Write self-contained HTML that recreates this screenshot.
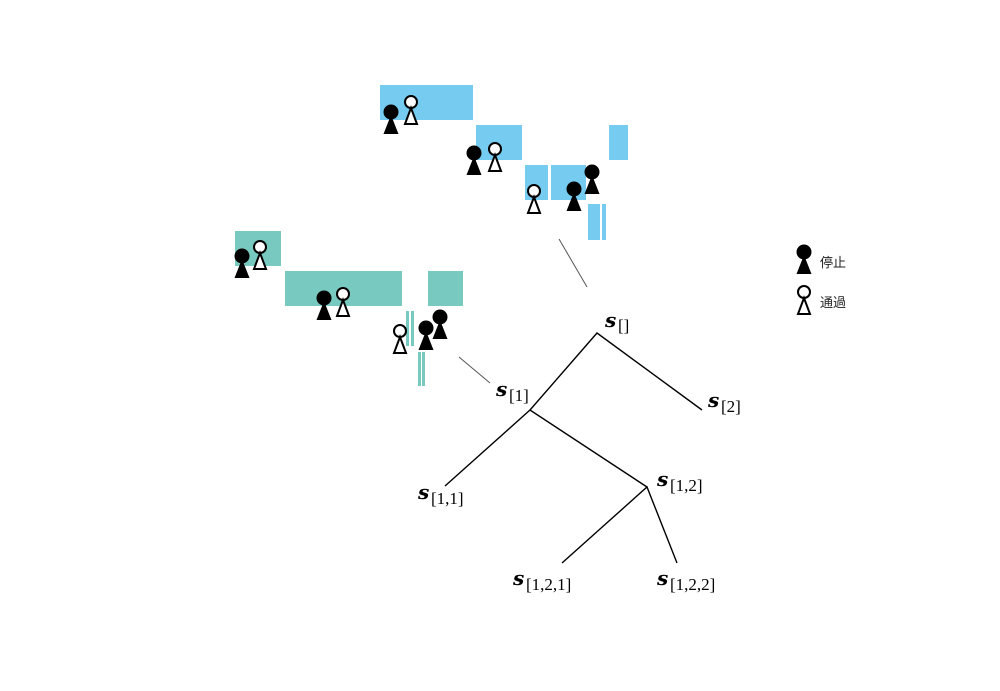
<!DOCTYPE html>
<html><head><meta charset="utf-8"><style>
html,body{margin:0;padding:0;background:#fff;width:1000px;height:691px;overflow:hidden}
</style></head><body>
<svg width="1000" height="691" viewBox="0 0 1000 691" xmlns="http://www.w3.org/2000/svg">
<defs>
<g id="fp"><circle cx="0" cy="0" r="7.5" fill="#000"/><path d="M0,3 L7.5,22 L-7.5,22 Z" fill="#000"/></g>
<g id="op"><circle cx="0" cy="0" r="6" fill="#fff" stroke="#000" stroke-width="2"/><path d="M0,6 L6,22 L-6,22 Z" fill="#fff" stroke="#000" stroke-width="2"/></g>
</defs>
<g fill="#75cbf0">
<rect x="380" y="85" width="93" height="35"/>
<rect x="476" y="125" width="46" height="35"/>
<rect x="609" y="125" width="19" height="35"/>
<rect x="525" y="165" width="23" height="35"/>
<rect x="551" y="165" width="35" height="35"/>
<rect x="588" y="204" width="12" height="36"/>
<rect x="602" y="204" width="4" height="36"/>
</g>
<g fill="#78c9c0">
<rect x="235" y="231" width="46" height="35"/>
<rect x="285" y="271" width="117" height="35"/>
<rect x="428" y="271" width="35" height="35"/>
<rect x="406" y="311" width="3" height="35"/>
<rect x="411" y="311" width="3" height="35"/>
<rect x="418" y="352" width="3" height="34"/>
<rect x="422" y="352" width="3" height="34"/>
</g>
<use href="#fp" x="391" y="112"/><use href="#op" x="411" y="102"/>
<use href="#fp" x="474" y="153"/><use href="#op" x="495" y="149"/>
<use href="#op" x="534" y="191"/><use href="#fp" x="574" y="189"/><use href="#fp" x="592" y="172"/>
<use href="#fp" x="242" y="256"/><use href="#op" x="260" y="247"/>
<use href="#fp" x="324" y="298"/><use href="#op" x="343" y="294"/>
<use href="#op" x="400" y="331"/><use href="#fp" x="426" y="328"/><use href="#fp" x="440" y="317"/>
<use href="#fp" x="804" y="252"/><use href="#op" x="804" y="292"/>
<g font-family="'Liberation Sans','Noto Sans CJK JP',sans-serif" font-size="13" fill="#222">
<text x="820" y="267">停止</text><text x="820" y="307">通過</text>
</g>
<g stroke="#555" stroke-width="1" fill="none">
<line x1="559" y1="239" x2="587" y2="287"/>
<line x1="459" y1="357" x2="490" y2="383"/>
</g>
<g stroke="#000" stroke-width="1.4" fill="none">
<polyline points="530,410 597,333 702,410"/>
<polyline points="445,486 530,410 647,487"/>
<polyline points="562,563 647,487 677,563"/>
</g>
<g font-family="'Liberation Serif',serif" fill="#000">
<g font-family="'DejaVu Serif',serif" font-size="20" font-weight="bold" font-style="italic">
<text x="605" y="327">s</text><text x="496" y="396">s</text><text x="708" y="407">s</text>
<text x="418" y="499">s</text><text x="657" y="486">s</text><text x="513" y="585">s</text><text x="657" y="585">s</text>
</g>
<g font-size="17">
<text x="618" y="331">[]</text>
<text x="509" y="401">[1]</text>
<text x="721" y="412">[2]</text>
<text x="431" y="504">[1,1]</text>
<text x="670" y="491">[1,2]</text>
<text x="526" y="590">[1,2,1]</text>
<text x="670" y="590">[1,2,2]</text>
</g>
</g>
</svg>
</body></html>
